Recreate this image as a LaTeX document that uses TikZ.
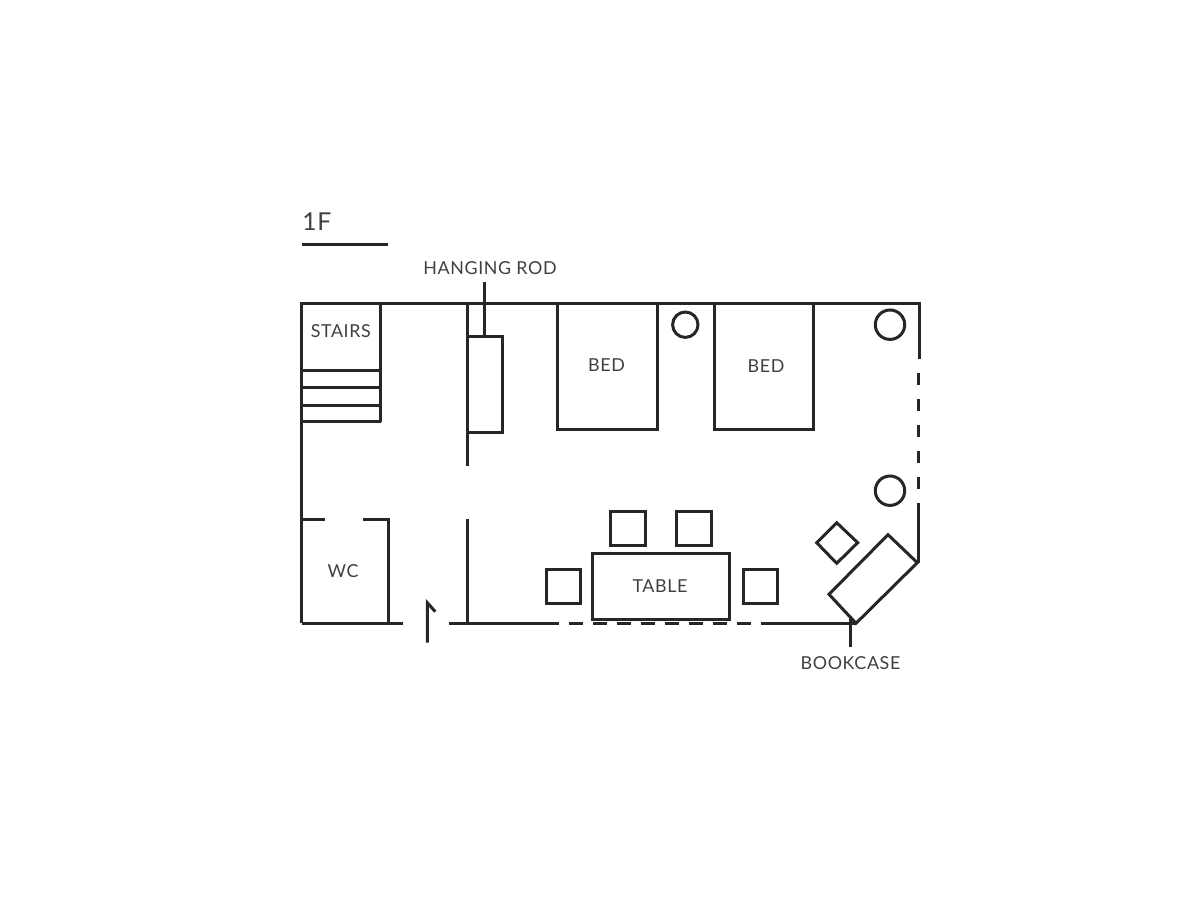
\documentclass[tikz,border=0pt]{standalone}
\usepackage{fontspec}
\setmainfont{Lato}[LetterSpace=3.5]
\tikzset{
  plan/.style={draw=black!85, line width=2.25pt, line cap=butt, line join=miter},
  lbl/.style={inner sep=0pt, text=black!75, font=\fontsize{13.4}{15}\selectfont},
}
\begin{document}
\begin{tikzpicture}[x=0.75pt,y=-0.75pt]
\useasboundingbox (0,0) rectangle (1200,900);
% title
\node[anchor=base west, inner sep=0pt, text=black!75, font=\fontsize{18.5}{20}\selectfont] (title) at (302,230) {1F};
\draw[plan] (301.5,244.7) -- (388,244.7);
% outer walls
\draw[plan] (301.7,623.3) -- (301.7,303) -- (919,303) -- (919,359);
\draw[plan] (301.7,623.3) -- (403,623.3);
\draw[plan] (449.3,623.3) -- (559.3,623.3);
\foreach \s in {569.3,593.3,617.3,641.3,665.3,689.3,713.3,737.3}
  \draw[plan] (\s,623.3) -- ++(14,0);
\draw[plan] (761.3,623.3) -- (856,623.3);
\foreach \s/\e in {373.3/385,399/410.7,425/436.7,451/462.7,476.7/489}
  \draw[plan] (918.7,\s) -- (918.7,\e);
\draw[plan] (918.7,502.7) -- (918.7,562.7);
% stairs
\draw[plan] (380.7,303) -- (380.7,421.7);
\foreach \y in {370,387.7,405,421.7}
  \draw[plan] (301.7,\y) -- (380.7,\y);
% inner wall and hanging rod
\draw[plan] (467,303) -- (467,466);
\draw[plan] (467,519.3) -- (467,623.3);
\draw[plan] (467,336) rectangle (502.7,432.3);
% WC
\draw[plan] (301.7,519) -- (325,519);
\draw[plan] (363,519) -- (388,519) -- (388,623.3);
% entrance arrow
\draw[plan] (427.3,642.7) -- (427.3,602.7) -- (435.3,611.7);
% beds
\draw[plan] (557.3,303) -- (557.3,429.3) -- (657,429.3) -- (657,303);
\draw[plan] (714,303) -- (714,429.3) -- (813.7,429.3) -- (813.7,303);
% pillars
\draw[plan] (685.3,324.7) circle [radius=12.7];
\draw[plan] (890,324.7) circle [radius=14.7];
\draw[plan] (890,490.7) circle [radius=14.7];
% table and chairs
\draw[plan] (592,553) rectangle (729.3,619.3);
\draw[plan] (546,569) rectangle (580.7,603.3);
\draw[plan] (610.7,511) rectangle (645,545.3);
\draw[plan] (676.7,511) rectangle (711.3,545.3);
\draw[plan] (743.3,569.3) rectangle (777.7,603.7);
% bookcase and stool
\draw[plan] (836.7,522.7) -- (857.7,542.7) -- (836.7,563.3) -- (816.7,542.7) -- cycle;
\draw[plan] (888,534.7) -- (917.3,562.7) -- (856,623.3) -- (829,594.3) -- cycle;
% labels
\node[lbl] (rod) at (490,268) {HANGING ROD};
\coordinate (rodtop) at (484.7,281.7);
\coordinate (rodend) at (484.7,336);
\draw[plan] (rodtop) -- (rodend);
\node[lbl] (stairs) at (340.8,330.7) {STAIRS};
\node[lbl] (bedA) at (606.5,364.7) {BED};
\node[lbl] (bedB) at (766,366.2) {BED};
\node[lbl] (wc) at (343,571.3) {WC};
\node[lbl] (table) at (660,586.5) {TABLE};
\node[lbl] (bookcase) at (850.5,663.2) {BOOKCASE};
\coordinate (caseend) at (850,616);
\coordinate (casetop) at (850,646.7);
\draw[plan] (caseend) -- (casetop);
\end{tikzpicture}
\end{document}
